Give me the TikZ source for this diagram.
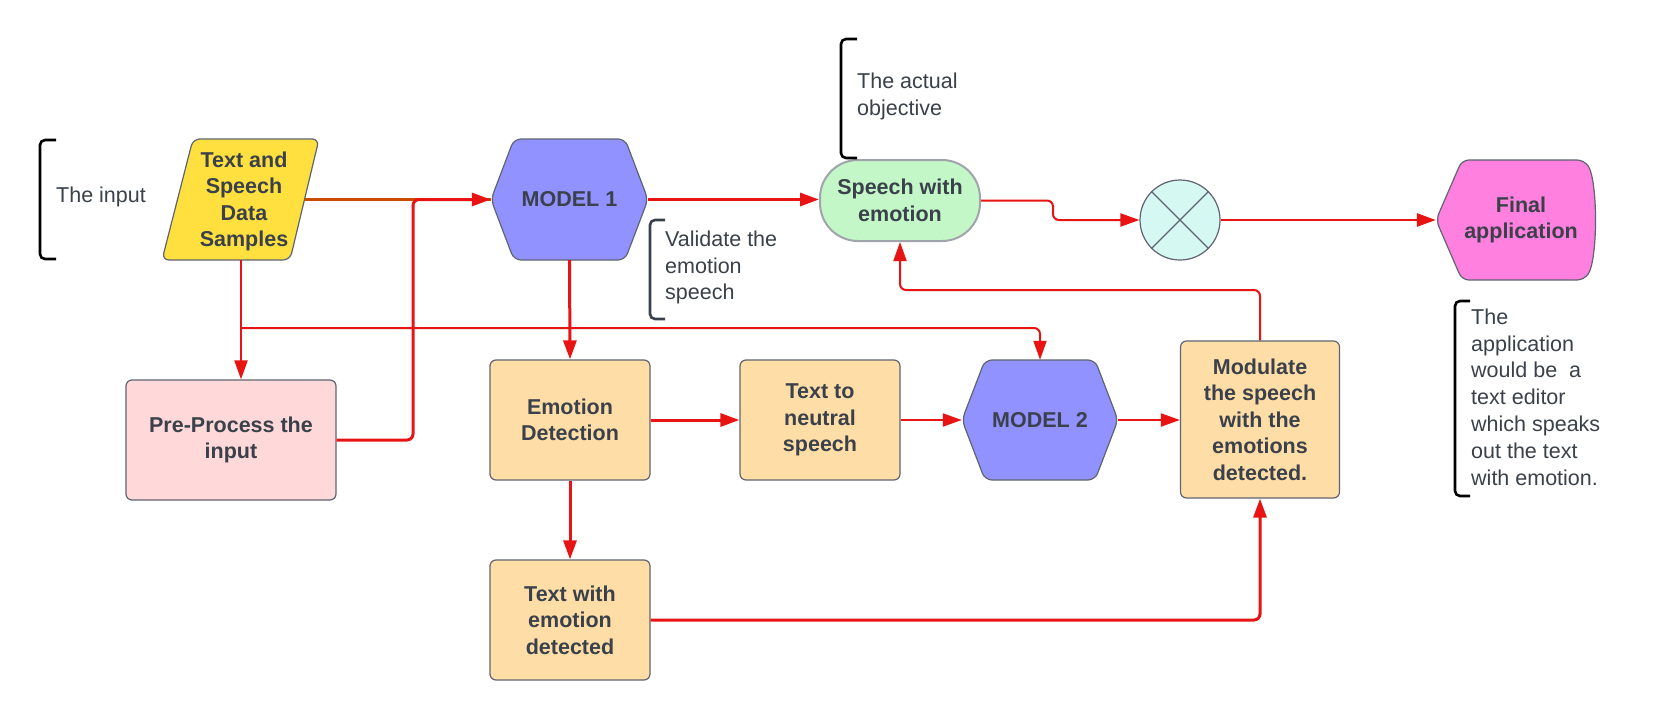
\documentclass[tikz,border=0pt]{standalone}
\usepackage{fontspec}
\setmainfont{Liberation Sans}
\usetikzlibrary{arrows.meta,calc}
\definecolor{txt}{HTML}{3A414A}
\definecolor{lnred}{HTML}{E81313}
\definecolor{lnorange}{HTML}{CC4B00}
\definecolor{hexfill}{HTML}{9191FF}
\definecolor{bord}{HTML}{5E6470}
\definecolor{lightbord}{HTML}{A0A4AB}
\definecolor{greenfill}{HTML}{C3F7C8}
\definecolor{pinkfill}{HTML}{FFD9D9}
\definecolor{orfill}{HTML}{FFDDA6}
\definecolor{cyanfill}{HTML}{D6F8F2}
\definecolor{magfill}{HTML}{FF80DF}
\definecolor{yelfill}{HTML}{FFE03F}
\begin{document}
\begin{tikzpicture}[x=1pt,y=-1pt,
  lbl/.style={font=\fontsize{21.5}{26.5}\selectfont\bfseries, text=txt, align=center, inner sep=0pt},
  note/.style={font=\fontsize{21.5}{26.8}\selectfont, text=txt, align=left, anchor=west, inner sep=0pt},
  box/.style={lbl, draw=bord, line width=1.2pt, rounded corners=6pt},
  shapeline/.style={draw=bord, line width=1.2pt, rounded corners=7pt},
  tip/.style={-{Triangle[length=19pt,width=13pt]}},
  thickc/.style={draw=lnred, line width=3pt, rounded corners=6pt, tip},
  thinc/.style={draw=lnred, line width=2pt, rounded corners=6pt, tip},
  bracket/.style={draw=black, line width=2.6pt, rounded corners=5pt},
]
\useasboundingbox[fill=white] (0,0) rectangle (1656,720);

% ---------- shapes drawn directly ----------
% parallelogram
\path[shapeline, fill=yelfill] (250,139) -- (319,139) -- (290,260) -- (162,260) -- (193,139) -- cycle;
% hexagon MODEL 1
\path[shapeline, fill=hexfill] (570,139) -- (625,139) -- (648,199.5) -- (625,260) -- (514,260) -- (491,199.5) -- (514,139) -- cycle;
% hexagon MODEL 2
\path[shapeline, fill=hexfill] (1040,360) -- (1095,360) -- (1118,420) -- (1095,480) -- (985,480) -- (962,420) -- (985,360) -- cycle;
% final application display shape
\path[shapeline, fill=magfill] (1520,160) -- (1584,160) .. controls (1598,180) and (1598,260) .. (1584,280) -- (1462,280) -- (1436,220) -- (1462,160) -- cycle;

% ---------- nodes ----------
\node[lbl, minimum width=127, minimum height=121] (para) at (241,199.5) {};
\node[lbl] (paratext) at (244,201.5) {Text and\\Speech\\Data\\Samples};
\node[lbl, minimum width=157, minimum height=121] (m1) at (569.5,199.5) {MODEL 1};
\node[lbl, minimum width=156, minimum height=120] (m2) at (1040,420) {MODEL 2};
\node[lbl, minimum width=170, minimum height=120] (fin) at (1521,220) {Final\\application};

\node[box, fill=greenfill, draw=lightbord, line width=2pt, rounded corners=38pt, minimum width=160, minimum height=81] (speech) at (900,200.5) {Speech with\\emotion};
\node[box, fill=pinkfill, minimum width=210, minimum height=120] (pre) at (231,440) {Pre-Process the\\input};
\node[box, fill=orfill, minimum width=160, minimum height=120] (emo) at (570,420) {Emotion\\Detection};
\node[box, fill=orfill, minimum width=160, minimum height=120] (tn) at (820,420) {Text to\\neutral\\speech};
\node[box, fill=orfill, minimum width=159, minimum height=157] (mod) at (1260,419.5) {Modulate\\the speech\\with the\\emotions\\detected.};
\node[box, fill=orfill, minimum width=160, minimum height=120] (twe) at (570,620) {Text with\\emotion\\detected};
\node[circle, draw=bord, line width=1.2pt, fill=cyanfill, minimum size=80, inner sep=0pt] (circ) at (1180,220) {};
\draw[draw=bord, line width=1.2pt] (circ.north west) -- (circ.south east) (circ.north east) -- (circ.south west);

% ---------- notes ----------
\draw[bracket] (56,140) -- (40,140) -- (40,259) -- (56,259);
\node[note] (n1) at (56,197) {The input};
\draw[bracket] (857,39) -- (841,39) -- (841,158) -- (857,158);
\node[note] (n2) at (857,96.5) {The actual\\objective};
\draw[bracket, draw=txt] (665,220) -- (650,220) -- (650,319) -- (665,319);
\node[note] (n3) at (665,267.5) {Validate the\\emotion\\speech};
\draw[bracket] (1470,301) -- (1455,301) -- (1455,496) -- (1470,496);
\node[note] (n4) at (1471,397) {The\\application\\would be~ a\\text editor\\which speaks\\out the text\\with emotion.};

% ---------- connectors ----------
\coordinate (j1) at (413,199.5);
\coordinate (br) at (241,328);
\coordinate (up) at (900,290);
\draw[draw=lnorange, line width=3pt] (para.east) -- (m1.west);
\draw[thickc] (pre.east) -| (j1) -- (m1.west);
\draw[thinc] (para.south) -- (para.south |- pre.north);
\draw[thinc] (br) -| (m2.north);
\draw[thickc] (m1.east) -- (m1.east -| speech.west);
\draw[thickc] (m1.south) -- (emo.north);
\draw[thickc] (emo.east) -- (tn.west);
\draw[thickc] (emo.south) -- (twe.north);
\draw[thinc] (tn.east) -- (m2.west);
\draw[thinc] (m2.east) -- (m2.east -| mod.west);
\draw[thickc] (twe.east) -| (mod.south);
\draw[thinc] (mod.north) |- (up) -- (speech.south);
\draw[thinc] (speech.east) -- ++(72,0) |- (circ.west);
\draw[thinc, line width=2.4pt] (circ.east) -- (fin.west);
\end{tikzpicture}
\end{document}
